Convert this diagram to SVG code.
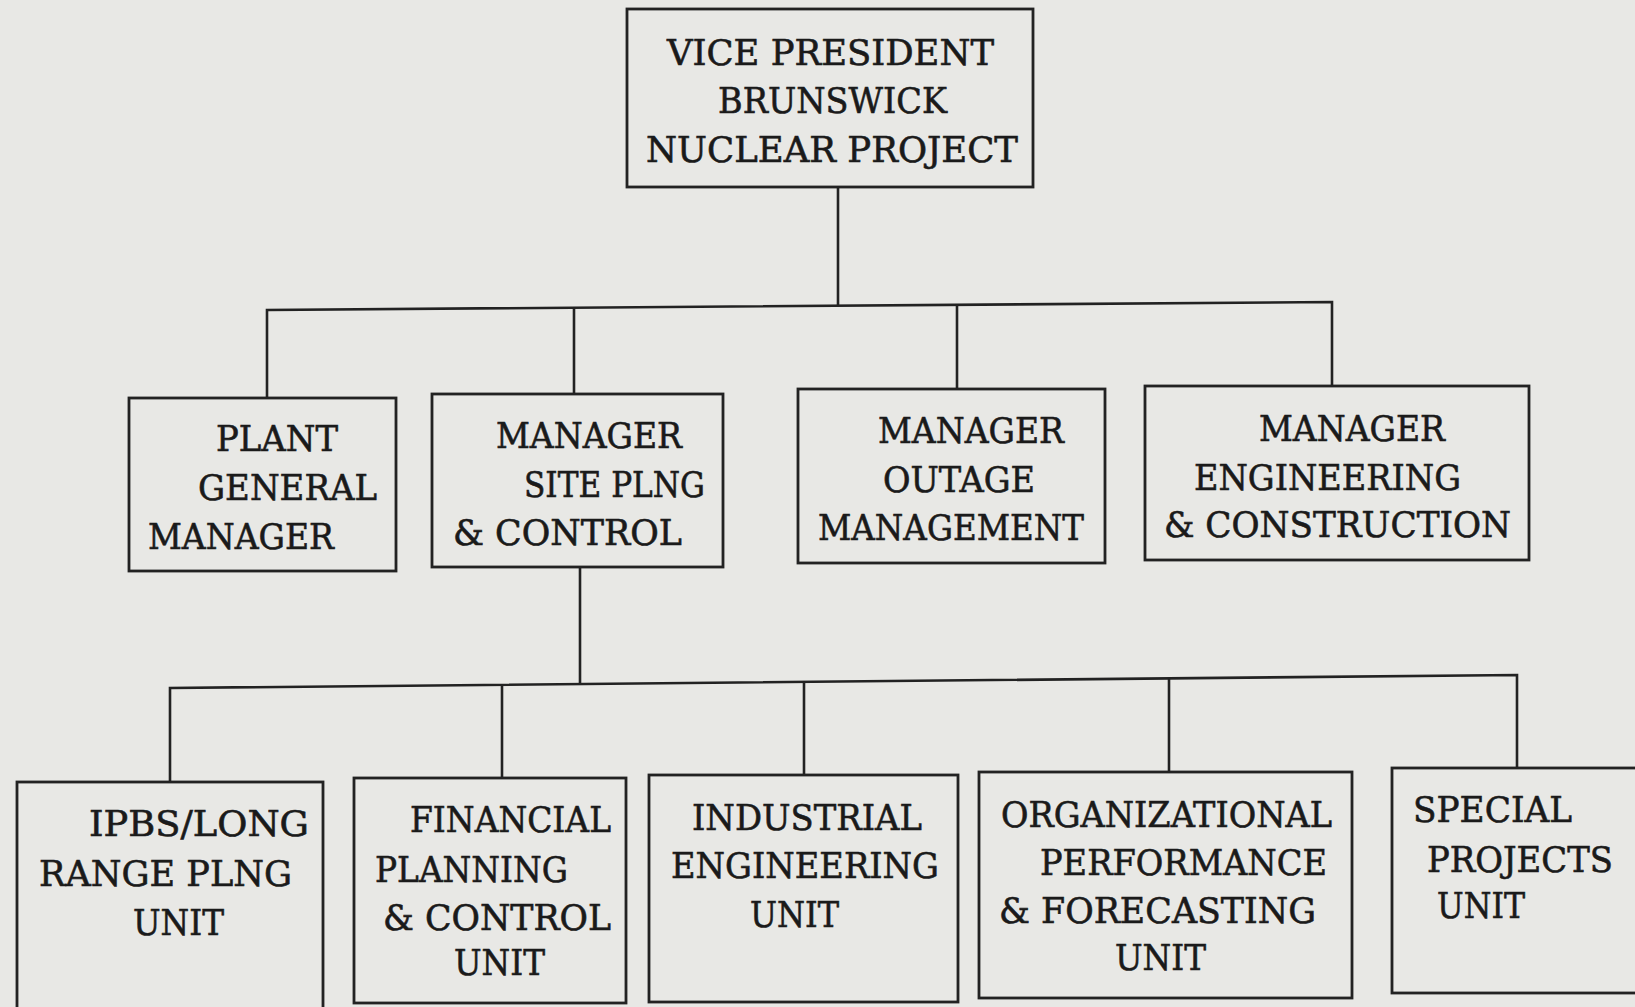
<svg xmlns="http://www.w3.org/2000/svg" width="1635" height="1007" viewBox="0 0 1635 1007">
<style>
.bg{fill:#e8e8e5}
.box{fill:none;stroke:#222;stroke-width:2.8}
.ln{fill:none;stroke:#222;stroke-width:2.6}
text{font-family:"DejaVu Serif","Liberation Serif",serif;font-size:36px;fill:#1a1a1a;stroke:#1a1a1a;stroke-width:0.6}
</style>
<rect class="bg" x="0" y="0" width="1635" height="1007"/>
<g id="connectors">
<polyline class="ln" points="838,187 838,305.7"/>
<polyline class="ln" points="267,398 267,310 1332,302 1332,386"/>
<polyline class="ln" points="574,307.7 574,394"/>
<polyline class="ln" points="957,304.8 957,389"/>
<polyline class="ln" points="580,567 580,684"/>
<polyline class="ln" points="170,782 170,688 1517,675 1517,768"/>
<polyline class="ln" points="502,684.8 502,778"/>
<polyline class="ln" points="804,681.9 804,775"/>
<polyline class="ln" points="1169,678.4 1169,772"/>
</g>
<g id="vp">
<rect class="box" x="627" y="9" width="406" height="178"/>
<text x="667" y="65" textLength="327" lengthAdjust="spacingAndGlyphs">VICE PRESIDENT</text>
<text x="718" y="113" textLength="229" lengthAdjust="spacingAndGlyphs">BRUNSWICK</text>
<text x="646" y="162" textLength="372" lengthAdjust="spacingAndGlyphs">NUCLEAR PROJECT</text>
</g>
<g id="plant">
<rect class="box" x="129" y="398" width="267" height="173"/>
<text x="216" y="451" textLength="122" lengthAdjust="spacingAndGlyphs">PLANT</text>
<text x="198" y="500" textLength="179" lengthAdjust="spacingAndGlyphs">GENERAL</text>
<text x="148" y="549" textLength="186" lengthAdjust="spacingAndGlyphs">MANAGER</text>
</g>
<g id="site">
<rect class="box" x="432" y="394" width="291" height="173"/>
<text x="496" y="448" textLength="186" lengthAdjust="spacingAndGlyphs">MANAGER</text>
<text x="524" y="497" textLength="181" lengthAdjust="spacingAndGlyphs">SITE PLNG</text>
<text x="453" y="545" textLength="229" lengthAdjust="spacingAndGlyphs">&amp; CONTROL</text>
</g>
<g id="outage">
<rect class="box" x="798" y="389" width="307" height="174"/>
<text x="878" y="443" textLength="186" lengthAdjust="spacingAndGlyphs">MANAGER</text>
<text x="883" y="492" textLength="152" lengthAdjust="spacingAndGlyphs">OUTAGE</text>
<text x="818" y="540" textLength="266" lengthAdjust="spacingAndGlyphs">MANAGEMENT</text>
</g>
<g id="engineering">
<rect class="box" x="1145" y="386" width="384" height="174"/>
<text x="1259" y="441" textLength="186" lengthAdjust="spacingAndGlyphs">MANAGER</text>
<text x="1194" y="490" textLength="267" lengthAdjust="spacingAndGlyphs">ENGINEERING</text>
<text x="1164" y="537" textLength="347" lengthAdjust="spacingAndGlyphs">&amp; CONSTRUCTION</text>
</g>
<g id="ipbs">
<rect class="box" x="17" y="782" width="306" height="235"/>
<text x="89" y="836" textLength="220" lengthAdjust="spacingAndGlyphs">IPBS/LONG</text>
<text x="39" y="886" textLength="253" lengthAdjust="spacingAndGlyphs">RANGE PLNG</text>
<text x="133" y="935" textLength="91" lengthAdjust="spacingAndGlyphs">UNIT</text>
</g>
<g id="financial">
<rect class="box" x="354" y="778" width="272" height="225"/>
<text x="410" y="832" textLength="201" lengthAdjust="spacingAndGlyphs">FINANCIAL</text>
<text x="375" y="882" textLength="193" lengthAdjust="spacingAndGlyphs">PLANNING</text>
<text x="383" y="930" textLength="228" lengthAdjust="spacingAndGlyphs">&amp; CONTROL</text>
<text x="454" y="975" textLength="91" lengthAdjust="spacingAndGlyphs">UNIT</text>
</g>
<g id="industrial">
<rect class="box" x="649" y="775" width="309" height="227"/>
<text x="692" y="830" textLength="230" lengthAdjust="spacingAndGlyphs">INDUSTRIAL</text>
<text x="671" y="878" textLength="268" lengthAdjust="spacingAndGlyphs">ENGINEERING</text>
<text x="750" y="927" textLength="89" lengthAdjust="spacingAndGlyphs">UNIT</text>
</g>
<g id="organizational">
<rect class="box" x="979" y="772" width="373" height="226"/>
<text x="1001" y="827" textLength="331" lengthAdjust="spacingAndGlyphs">ORGANIZATIONAL</text>
<text x="1040" y="875" textLength="287" lengthAdjust="spacingAndGlyphs">PERFORMANCE</text>
<text x="999" y="923" textLength="317" lengthAdjust="spacingAndGlyphs">&amp; FORECASTING</text>
<text x="1115" y="970" textLength="91" lengthAdjust="spacingAndGlyphs">UNIT</text>
</g>
<g id="special">
<rect class="box" x="1392" y="768" width="250" height="225"/>
<text x="1413" y="822" textLength="159" lengthAdjust="spacingAndGlyphs">SPECIAL</text>
<text x="1427" y="872" textLength="186" lengthAdjust="spacingAndGlyphs">PROJECTS</text>
<text x="1437" y="918" textLength="88" lengthAdjust="spacingAndGlyphs">UNIT</text>
</g>
</svg>
